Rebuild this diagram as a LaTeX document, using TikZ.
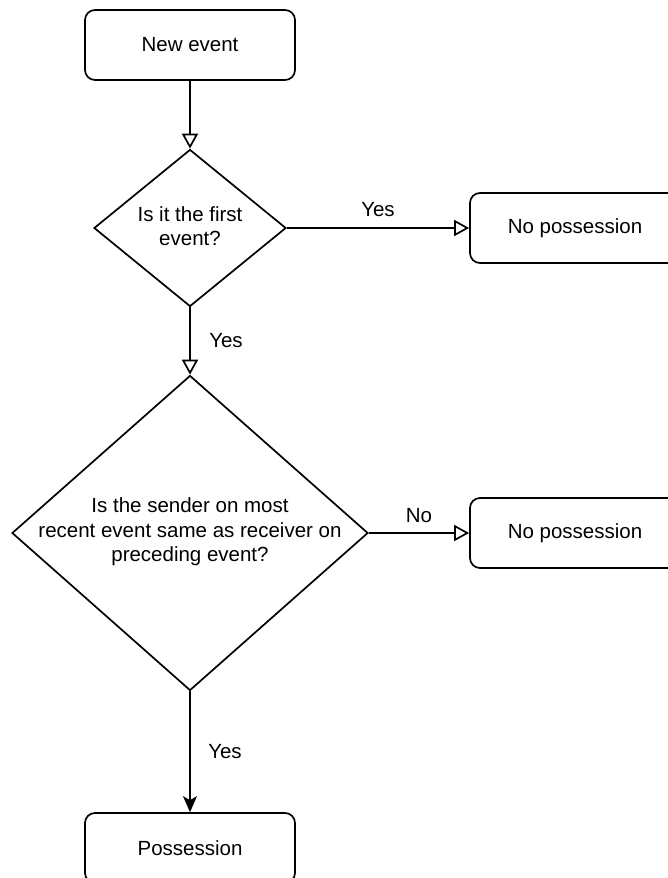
\documentclass[tikz,border=0pt]{standalone}
\usepackage{fontspec}
\setmainfont{Liberation Sans}
\usetikzlibrary{arrows.meta,shapes.geometric}
\tikzset{
  box/.style={draw, line width=1.7pt, rounded corners=10pt, minimum width=210pt, minimum height=70pt, inner sep=0pt, font=\fontsize{20.5}{24.6}\selectfont, fill=white},
  dec/.style={draw, diamond, line width=1.7pt, inner sep=0pt, fill=white},
  txt/.style={align=center, inner sep=0pt, font=\fontsize{20.5}{24.6}\selectfont},
  lbl/.style={inner sep=0pt, font=\fontsize{20.5}{24.6}\selectfont},
  conn/.style={line width=1.7pt},
  openarr/.style={-{Triangle[open, length=15pt, width=16pt]}},
  fillarr/.style={-{Stealth[length=16pt, width=14pt, inset=4pt]}}
}
\begin{document}
\begin{tikzpicture}[x=1pt,y=-1pt]
\useasboundingbox (0,0) rectangle (668,878);
\clip (0,0) rectangle (668,878);
\fill[white] (0,0) rectangle (668,878);
\node[box] (new) at (190,45) {New event};
\node[dec, minimum width=192pt, minimum height=157pt] (d1) at (190,228) {};
\node[txt] (t1) at (190,226) {Is it the first\\event?};
\node[box] (np1) at (575,228) {No possession};
\node[dec, minimum width=356pt, minimum height=315pt] (d2) at (190,533) {};
\node[txt] (t2) at (190,532) {Is the sender on most\\recent event same as receiver on\\preceding event?};
\node[box] (np2) at (575,533) {No possession};
\node[box] (pos) at (190,848) {Possession};

\draw[conn, openarr] (new.south) -- (d1.north);
\draw[conn, openarr] (d1.east) -- (np1.west) node[lbl, midway, yshift=18pt] (l1) {Yes};
\draw[conn, openarr] (d1.south) -- (d2.north) node[lbl, midway, xshift=36pt] (l2) {Yes};
\draw[conn, openarr] (d2.east) -- (np2.west) node[lbl, midway, yshift=17pt] (l3) {No};
\draw[conn, fillarr] (d2.south) -- (pos.north) node[lbl, midway, xshift=35pt] (l4) {Yes};
\end{tikzpicture}
\end{document}
